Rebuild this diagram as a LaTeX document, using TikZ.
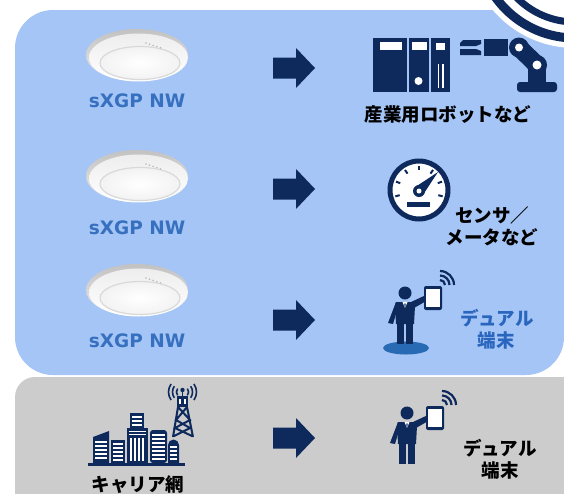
\documentclass[tikz,border=0pt]{standalone}
\usepackage{fontspec}
\setmainfont{DejaVu Sans}
\newfontfamily\latfont{DejaVu Sans}
\newfontfamily\jpfont{Noto Sans CJK JP}
\usetikzlibrary{calc}

\definecolor{bgblue}{RGB}{164,197,246}
\definecolor{bggray}{RGB}{204,204,204}
\definecolor{navy}{RGB}{14,42,92}
\definecolor{nwblue}{RGB}{54,112,190}
\definecolor{dualblue}{RGB}{42,102,190}
\definecolor{padblue}{RGB}{40,106,180}

\tikzset{
  nwlabel/.style={font=\latfont\bfseries\fontsize{18.5}{20}\selectfont, text=nwblue, inner sep=0pt},
  jplabel/.style={font=\jpfont\bfseries\fontsize{18.5}{22}\selectfont, inner sep=0pt},
  % ceiling access point seen from below
  apdevice/.pic={
    \shade[top color=black!24, bottom color=black!8] (0,0) ellipse [x radius=51, y radius=26];
    \shade[top color=black!7, bottom color=white] (1.5,2.5) ellipse [x radius=49.5, y radius=24];
    \shade[inner color=white, outer color=black!5] (3,8) ellipse [x radius=40, y radius=16.5];
    \draw[black!15, line width=1.2] (3,8) ellipse [x radius=40, y radius=16.5];
    \foreach \i in {0,...,4} \fill[black!28] (9+3.6*\i,-12+1.2*\i) circle (0.9);
  },
  % block arrow
  fatarrow/.pic={
    \fill[navy] (-21,-10.5) -- (2,-10.5) -- (2,-20) -- (21,0) -- (2,20) -- (2,10.5) -- (-21,10.5) -- cycle;
  },
  % person holding a tablet, origin at the head
  person/.pic={
    \fill[navy] (0,0) circle (6.5);
    \fill[navy] (-9,9) -- (9,9) -- (10,13) -- (9,31) -- (-9,31) -- (-10,13) -- cycle;
    \fill[navy] (-8,30) rectangle (-0.7,51);
    \fill[navy] (0.7,30) rectangle (8,51);
    \fill[navy] (-9,9) -- (-6,11) -- (-12,31) -- (-17,30) -- cycle;
    \fill[navy] (6,9) -- (21,2) -- (23,7) -- (9,15) -- cycle;
    \fill[white] (-2.5,9) -- (2.5,9) -- (0,15) -- cycle;
    \fill[navy] (-0.8,10.5) -- (0.8,10.5) -- (0,16) -- cycle;
    \fill[navy, rounded corners=2] (19,-7) rectangle (37,17);
    \fill[white] (21,-4) rectangle (35,13.5);
    \foreach \r in {5,9.5,14}
      \draw[navy, line width=2.2] ($(35,-8)+(-90:\r)$) arc [start angle=-90, end angle=0, radius=\r];
  }
}

\begin{document}
\begin{tikzpicture}[x=1pt,y=-1pt]
\useasboundingbox (0,0) rectangle (564,493);
\clip (0,0) rectangle (564,493);

% panels
\fill[bgblue, rounded corners=38] (15,10) rectangle (564,375);
\fill[bggray, rounded corners=20] (15,377) rectangle (600,530);

% ring emblem in the corner
\fill[white] (575,-60) circle (108);
\draw[navy, line width=9] (575,-60) circle (98);
\draw[navy, line width=7] (575,-60) circle (82);

% access points
\pic at (137,55) {apdevice};
\pic at (137,176) {apdevice};
\pic at (137,290) {apdevice};
\node[nwlabel] (nw1) at (137,101) {sXGP NW};
\node[nwlabel] (nw2) at (137,228) {sXGP NW};
\node[nwlabel] (nw3) at (137,341) {sXGP NW};

% arrows
\pic at (294,68) {fatarrow};
\pic at (294,189) {fatarrow};
\pic at (294,320) {fatarrow};
\pic at (294,438) {fatarrow};

% binders
\fill[navy] (373,38) rectangle (407,92);
\fill[white] (380,42) rectangle (402,50);
\fill[navy] (409,38) rectangle (429,92);
\fill[white] (412,42) rectangle (427,50);
\fill[white] (418.5,81) circle (4);
\fill[navy] (431,38) rectangle (450,92);
\fill[white] (436,43) rectangle (445,50);
\draw[white, line width=1.8] (438.5,64) -- (438.5,88) (443,64) -- (443,88);

% robot arm
\fill[navy] (463,40) -- (481,40) -- (481,44) -- (476,46) -- (460,46) -- (460,43) -- cycle;
\fill[navy] (460,49) -- (476,49) -- (481,51) -- (481,55) -- (460,55) -- cycle;
\fill[navy] (484,39) rectangle (508,56);
\draw[navy, line width=18] (519,47.5) -- (537,65);
\fill[navy] (519,47.5) circle (10);
\fill[navy] (537,65) circle (10);
\fill[white] (519,47.5) circle (4);
\fill[navy] (528,68) rectangle (546,84);
\fill[navy, rounded corners=3] (517,82) rectangle (557,92);
\fill[white] (537,65) circle (4.5);
\node[jplabel] (robotlabel) at (448,115) {産業用ロボットなど};

% gauge
\fill[white] (419,190) circle (29);
\draw[navy, line width=5] (419,190) circle (29);
\foreach \a in {-90,-55,-125,-20,-160,15,-195}
  \draw[navy, line width=2] ($(419,190)+(\a:20)$) -- ($(419,190)+(\a:24.5)$);
\fill[navy] ($(419,191)+(-135:5.5)$) -- (438,172) -- ($(419,191)+(45:5.5)$) -- cycle;
\fill[navy] (419,191) circle (6);
\fill[white] (419,191) circle (2.5);
\fill[navy] (407,202) rectangle (430,207);
\node[jplabel] (sensor1) at (492,215) {センサ／};
\node[jplabel] (sensor2) at (492,237) {メータなど};

% dual-mode terminal on sXGP
\fill[padblue] (406,348) ellipse [x radius=23, y radius=6.5];
\pic at (405,293) {person};
\node[jplabel, text=dualblue] (dual1) at (497,318) {デュアル};
\node[jplabel, text=dualblue] (dual2) at (496,340) {端末};

% carrier network: city with tower
\fill[navy] (88,463) rectangle (185,466);
\fill[navy] (93,437) -- (109,431) -- (109,463) -- (93,463) -- cycle;
\foreach \y in {441,445,...,459} \fill[white] (95,\y) rectangle (107,\y+1.6);
\fill[navy] (111,440) rectangle (125,463);
\foreach \y in {443,447,...,459} \fill[white] (113,\y) rectangle (123,\y+1.6);
\fill[navy] (130,413) rectangle (144,428);
\foreach \y in {416,420,424} \fill[white] (132,\y) rectangle (142,\y+1.6);
\fill[navy] (127,428) rectangle (148,463);
\foreach \y in {431,434} \fill[white] (129,\y) rectangle (146,\y+1.4);
\foreach \x in {130,134,138,142} \fill[white] (\x,438) rectangle (\x+1.6,461);
\fill[navy, rounded corners=3] (150,463) -- (150,430) -- (167,430) -- (167,463) -- cycle;
\foreach \y in {434,438,...,458} \fill[white] (152,\y) rectangle (165,\y+1.6);
\fill[navy] (168,463) -- (168,445) arc [start angle=180, end angle=360, radius=5.5] -- (179,463) -- cycle;
\foreach \y in {446,450,...,458} \fill[white] (170,\y) rectangle (177,\y+1.6);
% tower
\fill[navy] (177,396) rectangle (188,407);
\fill[white] (179,399) rectangle (181,404);
\fill[white] (184,399) rectangle (186,404);
\draw[navy, line width=2] (178,407) -- (173,437) (187,407) -- (193,437)
  (178,407) -- (190,420) -- (175,428) -- (192,436)
  (187,407) -- (176,420) -- (190,428) -- (174,436);
\draw[navy, line width=1.5] (182.5,396) -- (182.5,391);
\fill[navy] (182.5,390) circle (2.2);
\foreach \r in {6,10,14}{
  \draw[navy, line width=1.6] ($(182.5,392)+(145:\r)$) arc [start angle=145, end angle=215, radius=\r];
  \draw[navy, line width=1.6] ($(182.5,392)+(-35:\r)$) arc [start angle=-35, end angle=35, radius=\r];
}
\node[jplabel, text=black] (carrier) at (138,485) {キャリア網};

% dual-mode terminal on the carrier network
\pic at (407,413) {person};
\node[jplabel, text=black] (dual3) at (500,448) {デュアル};
\node[jplabel, text=black] (dual4) at (500,470) {端末};
\end{tikzpicture}
\end{document}
